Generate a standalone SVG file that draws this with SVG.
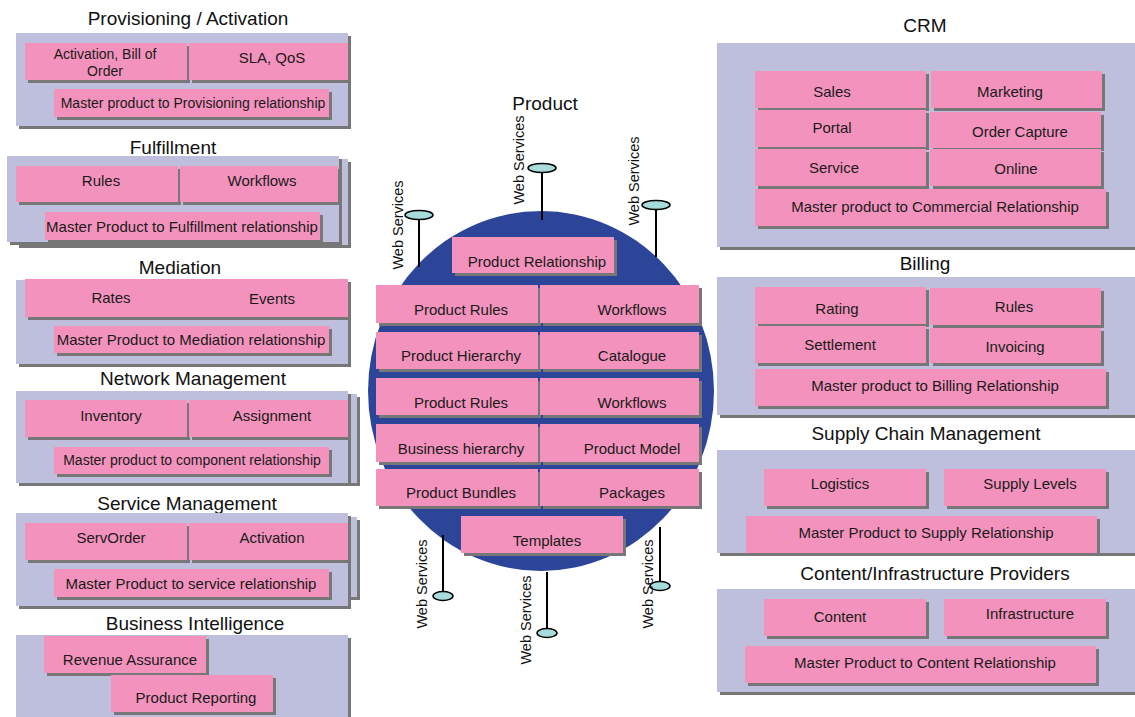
<svg xmlns="http://www.w3.org/2000/svg" width="1135" height="717" viewBox="0 0 1135 717">
<defs>
<filter id="sh" x="0" y="0" width="1.12" height="1.35">
<feOffset in="SourceAlpha" dx="3" dy="3" result="o"/>
<feFlood flood-color="#777777"/>
<feComposite in2="o" operator="in"/>
<feMerge><feMergeNode/><feMergeNode in="SourceGraphic"/></feMerge>
</filter>
</defs>
<style>
.panel{fill:#bebedd;filter:url(#sh)}
.box{fill:#f393bd;filter:url(#sh)}
text{font-family:"Liberation Sans",Arial,sans-serif;fill:#1a1a1a;text-anchor:middle}
.t{font-size:15px}
.m{font-size:14px}
.h{font-size:19px;fill:#111}
.ws{font-size:14.5px;fill:#111}
.stick{stroke:#000;stroke-width:2}
.port{fill:#a8dcdc;stroke:#000;stroke-width:1.5}
</style>
<rect width="1135" height="717" fill="#fff"/>

<g id="provisioning">
<text class="h" x="188" y="25">Provisioning / Activation</text>
<rect class="panel" x="16" y="33" width="332" height="93"/>
<rect class="box" x="25" y="43" width="162" height="37"/>
<rect class="box" x="189" y="43" width="159" height="37"/>
<rect class="box" x="54" y="89" width="275" height="28"/>
<text class="m" x="105" y="59">Activation, Bill of</text>
<text class="m" x="105" y="76">Order</text>
<text class="t" x="272" y="63">SLA, QoS</text>
<text class="m" x="193" y="108">Master product to Provisioning relationship</text>
</g>

<g id="fulfillment">
<text class="h" x="173" y="154">Fulfillment</text>
<rect class="panel" x="16" y="159" width="332" height="86"/>
<rect class="panel" x="7" y="156" width="332" height="86"/>
<rect class="box" x="16" y="166" width="162" height="36"/>
<rect class="box" x="180" y="166" width="158" height="36"/>
<rect class="box" x="45" y="212" width="275" height="28"/>
<text class="t" x="101" y="186">Rules</text>
<text class="t" x="262" y="186">Workflows</text>
<text class="t" x="182" y="232">Master Product to Fulfillment relationship</text>
</g>

<g id="mediation">
<text class="h" x="180" y="274">Mediation</text>
<rect class="panel" x="16" y="280" width="332" height="84"/>
<rect class="box" x="25" y="279" width="323" height="38"/>
<rect class="box" x="54" y="326" width="275" height="27"/>
<text class="t" x="111" y="303">Rates</text>
<text class="t" x="272" y="304">Events</text>
<text class="t" x="191" y="345">Master Product to Mediation relationship</text>
</g>

<g id="network-management">
<text class="h" x="193" y="385">Network Management</text>
<rect class="panel" x="25" y="394" width="332" height="89"/>
<rect class="panel" x="16" y="391" width="332" height="92"/>
<rect class="box" x="25" y="400" width="162" height="37"/>
<rect class="box" x="189" y="400" width="159" height="37"/>
<rect class="box" x="54" y="447" width="275" height="27"/>
<text class="t" x="111" y="421">Inventory</text>
<text class="t" x="272" y="421">Assignment</text>
<text class="m" x="192" y="465">Master product to component relationship</text>
</g>

<g id="service-management">
<text class="h" x="187" y="510">Service Management</text>
<rect class="panel" x="25" y="517" width="332" height="80"/>
<rect class="panel" x="16" y="513" width="332" height="93"/>
<rect class="box" x="25" y="523" width="162" height="37"/>
<rect class="box" x="189" y="523" width="159" height="37"/>
<rect class="box" x="54" y="569" width="275" height="28"/>
<text class="t" x="111" y="543">ServOrder</text>
<text class="t" x="272" y="543">Activation</text>
<text class="t" x="191" y="589">Master Product to service relationship</text>
</g>

<g id="business-intelligence">
<text class="h" x="195" y="630">Business Intelligence</text>
<rect class="panel" x="16" y="635" width="332" height="90"/>
<rect class="box" x="44" y="636" width="162" height="37"/>
<rect class="box" x="111" y="675" width="162" height="37"/>
<text class="t" x="130" y="665">Revenue Assurance</text>
<text class="t" x="196" y="703">Product Reporting</text>
</g>

<g id="product">
<text class="h" x="545" y="110">Product</text>
<ellipse cx="541" cy="391" rx="173" ry="180" fill="#2c4599"/>
</g>

<g id="connectors">
<line class="stick" x1="419" y1="215" x2="419" y2="267"/>
<line class="stick" x1="542" y1="168" x2="542" y2="220"/>
<line class="stick" x1="656" y1="205" x2="656" y2="257"/>
<line class="stick" x1="443" y1="535" x2="443" y2="595"/>
<line class="stick" x1="547" y1="572" x2="547" y2="633"/>
<line class="stick" x1="660" y1="527" x2="660" y2="586"/>
<ellipse class="port" cx="419" cy="215" rx="14" ry="4.5"/>
<ellipse class="port" cx="542" cy="168" rx="14" ry="4.5"/>
<ellipse class="port" cx="656" cy="205" rx="14" ry="4.5"/>
<ellipse class="port" cx="443" cy="596" rx="10" ry="4.5"/>
<ellipse class="port" cx="547" cy="633" rx="10" ry="4.5"/>
<ellipse class="port" cx="660" cy="586" rx="10" ry="4.5"/>
<text class="ws" transform="translate(403,225) rotate(-90)">Web Services</text>
<text class="ws" transform="translate(524,160) rotate(-90)">Web Services</text>
<text class="ws" transform="translate(639,181) rotate(-90)">Web Services</text>
<text class="ws" transform="translate(427,584) rotate(-90)">Web Services</text>
<text class="ws" transform="translate(531,620) rotate(-90)">Web Services</text>
<text class="ws" transform="translate(653,584) rotate(-90)">Web Services</text>
</g>

<g id="product-components">
<rect class="box" x="452" y="237" width="162" height="36"/>
<text class="t" x="537" y="267">Product Relationship</text>
<rect class="box" x="376" y="285" width="162" height="38"/>
<rect class="box" x="540" y="285" width="159" height="38"/>
<text class="t" x="461" y="315">Product Rules</text>
<text class="t" x="632" y="315">Workflows</text>
<rect class="box" x="376" y="332" width="162" height="37"/>
<rect class="box" x="540" y="332" width="159" height="37"/>
<text class="t" x="461" y="361">Product Hierarchy</text>
<text class="t" x="632" y="361">Catalogue</text>
<rect class="box" x="376" y="378" width="162" height="37"/>
<rect class="box" x="540" y="378" width="159" height="37"/>
<text class="t" x="461" y="408">Product Rules</text>
<text class="t" x="632" y="408">Workflows</text>
<rect class="box" x="376" y="424" width="162" height="38"/>
<rect class="box" x="540" y="424" width="159" height="38"/>
<text class="t" x="461" y="454">Business hierarchy</text>
<text class="t" x="632" y="454">Product Model</text>
<rect class="box" x="376" y="469" width="162" height="37"/>
<rect class="box" x="540" y="469" width="159" height="37"/>
<text class="t" x="461" y="498">Product Bundles</text>
<text class="t" x="632" y="498">Packages</text>
<rect class="box" x="461" y="516" width="162" height="37"/>
<text class="t" x="547" y="546">Templates</text>
</g>

<g id="crm">
<text class="h" x="925" y="32">CRM</text>
<rect class="panel" x="717" y="43" width="425" height="204"/>
<rect class="box" x="755" y="71" width="171" height="37"/>
<rect class="box" x="931" y="71" width="171" height="37"/>
<rect class="box" x="755" y="110" width="171" height="37"/>
<rect class="box" x="930" y="112" width="171" height="36"/>
<rect class="box" x="755" y="149" width="171" height="37"/>
<rect class="box" x="930" y="149" width="171" height="37"/>
<rect class="box" x="755" y="189" width="351" height="37"/>
<text class="t" x="832" y="97">Sales</text>
<text class="t" x="1010" y="97">Marketing</text>
<text class="t" x="832" y="133">Portal</text>
<text class="t" x="1020" y="137">Order Capture</text>
<text class="t" x="834" y="173">Service</text>
<text class="t" x="1016" y="174">Online</text>
<text class="t" x="935" y="212">Master product to Commercial Relationship</text>
</g>

<g id="billing">
<text class="h" x="925" y="270">Billing</text>
<rect class="panel" x="717" y="277" width="425" height="138"/>
<rect class="box" x="755" y="287" width="171" height="37"/>
<rect class="box" x="930" y="288" width="171" height="37"/>
<rect class="box" x="755" y="326" width="171" height="37"/>
<rect class="box" x="930" y="328" width="171" height="35"/>
<rect class="box" x="755" y="369" width="351" height="37"/>
<text class="t" x="837" y="314">Rating</text>
<text class="t" x="1014" y="312">Rules</text>
<text class="t" x="840" y="350">Settlement</text>
<text class="t" x="1015" y="352">Invoicing</text>
<text class="t" x="935" y="391">Master product to Billing Relationship</text>
</g>

<g id="supply-chain">
<text class="h" x="926" y="440">Supply Chain Management</text>
<rect class="panel" x="717" y="450" width="425" height="103"/>
<rect class="box" x="764" y="469" width="162" height="37"/>
<rect class="box" x="944" y="469" width="162" height="37"/>
<rect class="box" x="746" y="516" width="351" height="37"/>
<text class="t" x="840" y="489">Logistics</text>
<text class="t" x="1030" y="489">Supply Levels</text>
<text class="t" x="926" y="538">Master Product to Supply Relationship</text>
</g>

<g id="content-providers">
<text class="h" x="935" y="580">Content/Infrastructure Providers</text>
<rect class="panel" x="717" y="589" width="425" height="103"/>
<rect class="box" x="764" y="599" width="162" height="37"/>
<rect class="box" x="944" y="599" width="162" height="37"/>
<rect class="box" x="745" y="646" width="351" height="37"/>
<text class="t" x="840" y="622">Content</text>
<text class="t" x="1030" y="619">Infrastructure</text>
<text class="t" x="925" y="668">Master Product to Content Relationship</text>
</g>
</svg>
